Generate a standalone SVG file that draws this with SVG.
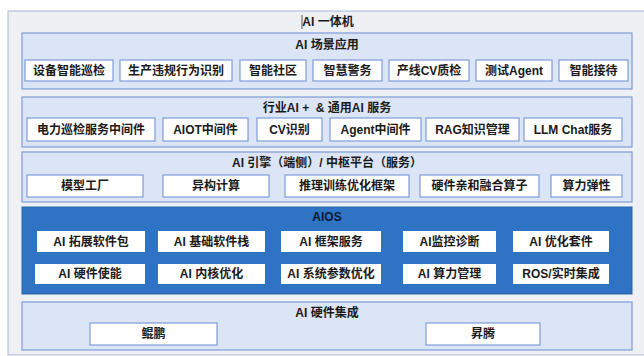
<svg xmlns="http://www.w3.org/2000/svg" width="644" height="356" viewBox="0 0 644 356">
<style>
text{font-family:"Liberation Sans","Noto Sans CJK SC",sans-serif;font-weight:bold;text-anchor:middle;dominant-baseline:central;fill:#1a1a1a}
.t{font-size:12px}
.i{font-size:12px}
.sec{fill:#dbe5f5;stroke:#7d9cd8;stroke-width:1.2}
.box{fill:#ffffff;stroke:#7d9cd8;stroke-width:1.2}
.wbox{fill:#ffffff;stroke:none}
</style>
<rect x="8" y="11" width="640" height="344" fill="#eef0f4" stroke="#a8b8da" stroke-width="1"/>
<line x1="302" y1="15" x2="302" y2="29" stroke="#333" stroke-width="0.8"/>
<text class="t" x="328" y="22">AI 一体机</text>

<g id="scene">
<rect class="sec" x="22" y="33" width="610" height="56"/>
<text class="t" x="327" y="45">AI 场景应用</text>
<g id="s1"><rect class="box" x="25" y="60" width="88" height="21"/><text class="i" x="69" y="70.5">设备智能巡检</text></g>
<g id="s2"><rect class="box" x="120" y="60" width="112" height="21"/><text class="i" x="176" y="70.5">生产违规行为识别</text></g>
<g id="s3"><rect class="box" x="240" y="60" width="66" height="21"/><text class="i" x="273" y="70.5">智能社区</text></g>
<g id="s4"><rect class="box" x="313" y="60" width="69" height="21"/><text class="i" x="347.5" y="70.5">智慧警务</text></g>
<g id="s5"><rect class="box" x="389" y="60" width="80" height="21"/><text class="i" x="429" y="70.5">产线CV质检</text></g>
<g id="s6"><rect class="box" x="476" y="60" width="76" height="21"/><text class="i" x="514" y="70.5">测试Agent</text></g>
<g id="s7"><rect class="box" x="559" y="60" width="69" height="21"/><text class="i" x="593.5" y="70.5">智能接待</text></g>
</g>

<g id="service">
<rect class="sec" x="22" y="97" width="610" height="50"/>
<text class="t" x="327" y="108" xml:space="preserve">行业AI +  &amp; 通用AI 服务</text>
<g id="v1"><rect class="box" x="27" y="118" width="128" height="23"/><text class="i" x="91" y="129.5">电力巡检服务中间件</text></g>
<g id="v2"><rect class="box" x="163" y="118" width="85" height="23"/><text class="i" x="205.5" y="129.5">AIOT中间件</text></g>
<g id="v3"><rect class="box" x="257" y="118" width="65" height="23"/><text class="i" x="289.5" y="129.5">CV识别</text></g>
<g id="v4"><rect class="box" x="330" y="118" width="91" height="23"/><text class="i" x="375.5" y="129.5">Agent中间件</text></g>
<g id="v5"><rect class="box" x="426" y="118" width="93" height="23"/><text class="i" x="472.5" y="129.5">RAG知识管理</text></g>
<g id="v6"><rect class="box" x="524" y="118" width="98" height="23"/><text class="i" x="573" y="129.5">LLM Chat服务</text></g>
</g>

<g id="engine">
<rect class="sec" x="22" y="152" width="610" height="50"/>
<text class="t" x="327" y="163">AI 引擎（端侧）/ 中枢平台（服务）</text>
<g id="e1"><rect class="box" x="27" y="175" width="116" height="22"/><text class="i" x="85" y="186">模型工厂</text></g>
<g id="e2"><rect class="box" x="163" y="175" width="106" height="22"/><text class="i" x="216" y="186">异构计算</text></g>
<g id="e3"><rect class="box" x="285" y="175" width="124" height="22"/><text class="i" x="347" y="186">推理训练优化框架</text></g>
<g id="e4"><rect class="box" x="420" y="175" width="119" height="22"/><text class="i" x="479.5" y="186">硬件亲和融合算子</text></g>
<g id="e5"><rect class="box" x="551" y="175" width="71" height="22"/><text class="i" x="586.5" y="186">算力弹性</text></g>
</g>

<g id="aios">
<rect x="22" y="207" width="610" height="87" fill="#2f74c4" stroke="#2a66b0" stroke-width="1"/>
<text class="t" x="327" y="217" style="fill:#0d1a33">AIOS</text>
<g id="a1"><rect class="wbox" x="37" y="231" width="108" height="21"/><text class="i" x="91" y="241.5">AI 拓展软件包</text></g>
<g id="a2"><rect class="wbox" x="158" y="231" width="107" height="21"/><text class="i" x="211.5" y="241.5">AI 基础软件栈</text></g>
<g id="a3"><rect class="wbox" x="281" y="231" width="100" height="21"/><text class="i" x="331" y="241.5">AI 框架服务</text></g>
<g id="a4"><rect class="wbox" x="403" y="231" width="93" height="21"/><text class="i" x="449.5" y="241.5">AI监控诊断</text></g>
<g id="a5"><rect class="wbox" x="513" y="231" width="96" height="21"/><text class="i" x="561" y="241.5">AI 优化套件</text></g>
<g id="a6"><rect class="wbox" x="35" y="264" width="110" height="20"/><text class="i" x="90" y="274">AI 硬件使能</text></g>
<g id="a7"><rect class="wbox" x="158" y="264" width="107" height="20"/><text class="i" x="211.5" y="274">AI 内核优化</text></g>
<g id="a8"><rect class="wbox" x="281" y="264" width="100" height="20"/><text class="i" x="331" y="274">AI 系统参数优化</text></g>
<g id="a9"><rect class="wbox" x="403" y="264" width="93" height="20"/><text class="i" x="449.5" y="274">AI 算力管理</text></g>
<g id="a10"><rect class="wbox" x="513" y="264" width="96" height="20"/><text class="i" x="561" y="274">ROS/实时集成</text></g>
</g>

<g id="hardware">
<rect class="sec" x="22" y="302" width="610" height="48"/>
<text class="t" x="327" y="313">AI 硬件集成</text>
<g id="h1"><rect class="box" x="90" y="323" width="127" height="22"/><text class="i" x="153.5" y="334">鲲鹏</text></g>
<g id="h2"><rect class="box" x="426" y="323" width="114" height="22"/><text class="i" x="483" y="334">昇腾</text></g>
</g>
<g id="connectors"/>
</svg>
